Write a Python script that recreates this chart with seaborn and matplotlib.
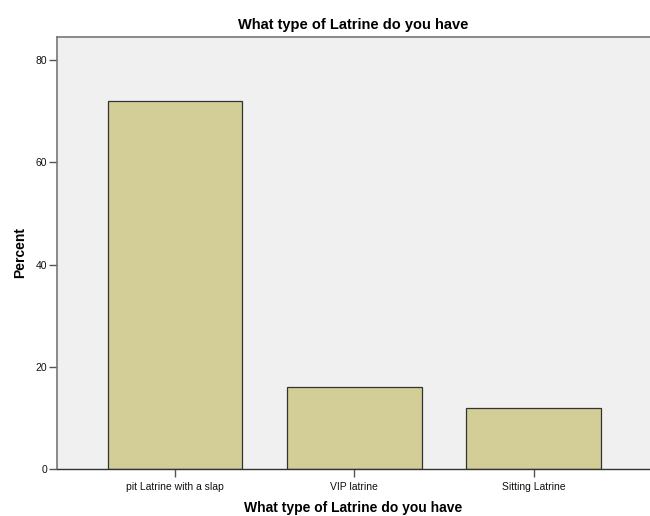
import matplotlib
matplotlib.use("Agg")
import matplotlib.pyplot as plt
import seaborn as sns
import pandas as pd

categories = ["pit Latrine with a slap", "VIP latrine", "Sitting Latrine"]
percents = [72.0, 16.0, 12.0]
yticks = [0, 20, 40, 60, 80]

sns.set_style("white")
plt.rcParams['font.family'] = ['Liberation Sans', 'DejaVu Sans']

df = pd.DataFrame({"cat": categories, "pct": percents})

fig = plt.figure(figsize=(6.5, 5.16), dpi=100)
ax = fig.add_axes([57/650, 47/516, 1 - 57/650, (469-37)/516])
ax.set_facecolor("#F0F0F0")

sns.barplot(data=df, x="cat", y="pct", ax=ax, color="#D3CE98", saturation=1,
            width=0.75, edgecolor="#333333", linewidth=0.9)

ax.set_xlim(-0.66, 2.65)
ax.set_ylim(0, 84.5)
ax.set_yticks(yticks)
ax.set_yticklabels([str(t) for t in yticks], fontsize=7.5, color="#111111")
ax.tick_params(axis='x', bottom=True, labelsize=7.5, length=6, width=1, color="#555555",
               direction="out", labelcolor="#111111", pad=3)
ax.tick_params(axis='y', left=True, length=6, width=1, color="#555555", direction="out", pad=1)

for side in ["left", "top"]:
    ax.spines[side].set_visible(True)
    ax.spines[side].set_color("#777777")
    ax.spines[side].set_linewidth(1.2)
ax.spines["bottom"].set_color("#333333")
ax.spines["bottom"].set_linewidth(1.0)
ax.spines["right"].set_visible(False)

ax.set_xlabel("What type of Latrine do you have", fontsize=10, fontweight="bold", labelpad=6.5, color="black")
ax.set_ylabel("Percent", fontsize=10, fontweight="bold", labelpad=6, color="black")
ax.set_title("What type of Latrine do you have", fontsize=10.5, fontweight="bold", pad=6, color="black")

fig.savefig("out.png", dpi=100)
